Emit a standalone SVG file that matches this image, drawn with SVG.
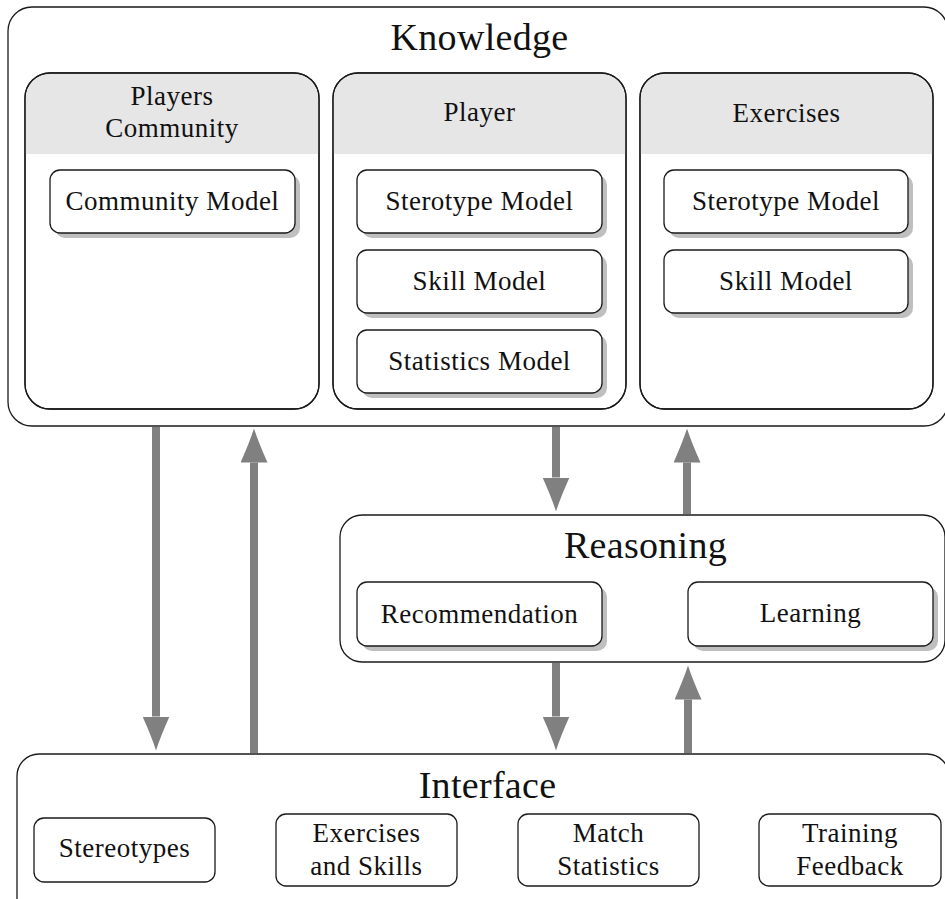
<svg xmlns="http://www.w3.org/2000/svg" width="945" height="899" viewBox="0 0 945 899">
<defs>
<style>
.outer{fill:#fff;stroke:#1a1a1a;stroke-width:1.3}
.box{fill:#fff;stroke:#1a1a1a;stroke-width:1.3}
.shadow{fill:#bfbfbf}
.hdr{fill:#e6e6e6}
.t{font-family:'Liberation Serif','DejaVu Serif',serif;font-size:27px;text-anchor:middle;fill:#111;letter-spacing:0.5px}
.title{font-size:38px;letter-spacing:0.3px}
.arrow{stroke:#808080;stroke-width:8;fill:none}
</style>
<marker id="ah" viewBox="0 0 34 27" markerWidth="34" markerHeight="27" refX="0" refY="13.5" markerUnits="userSpaceOnUse" orient="auto">
<path d="M0,0 Q20,9 34,13.5 Q20,18 0,27 Z" fill="#808080"/>
</marker>
</defs>
<rect width="945" height="899" fill="#fff"/>

<g id="knowledge">
<rect class="outer" x="8" y="7" width="940" height="419" rx="24"/>
<text class="t title" x="479.5" y="50">Knowledge</text>
</g>

<g id="players-community">
<rect class="box" x="25" y="73" width="294" height="336" rx="25"/>
<path class="hdr" d="M25.7,154 V98 A25,25 0 0 1 50,73.7 H294 A25,25 0 0 1 318.3,98 V154 Z"/>
<rect x="25" y="73" width="294" height="336" rx="25" fill="none" stroke="#1a1a1a" stroke-width="1.3"/>
<text class="t" x="172" y="105">Players</text>
<text class="t" x="172" y="137">Community</text>
</g>
<g id="community-model">
<rect class="shadow" x="55" y="175" width="245" height="63" rx="10"/>
<rect class="box" x="50" y="170" width="245" height="63" rx="10"/>
<text class="t" x="172.5" y="210">Community Model</text>
</g>

<g id="player">
<rect class="box" x="333" y="73" width="293" height="336" rx="25"/>
<path class="hdr" d="M333.7,154 V98 A25,25 0 0 1 358,73.7 H601 A25,25 0 0 1 625.3,98 V154 Z"/>
<rect x="333" y="73" width="293" height="336" rx="25" fill="none" stroke="#1a1a1a" stroke-width="1.3"/>
<text class="t" x="479.5" y="120.5">Player</text>
</g>
<g id="player-stereotype-model">
<rect class="shadow" x="362" y="175" width="245" height="63" rx="10"/>
<rect class="box" x="357" y="170" width="245" height="63" rx="10"/>
<text class="t" x="479.5" y="210">Sterotype Model</text>
</g>
<g id="player-skill-model">
<rect class="shadow" x="362" y="255" width="245" height="63" rx="10"/>
<rect class="box" x="357" y="250" width="245" height="63" rx="10"/>
<text class="t" x="479.5" y="290">Skill Model</text>
</g>
<g id="player-statistics-model">
<rect class="shadow" x="362" y="335" width="245" height="63" rx="10"/>
<rect class="box" x="357" y="330" width="245" height="63" rx="10"/>
<text class="t" x="479.5" y="370">Statistics Model</text>
</g>

<g id="exercises">
<rect class="box" x="640" y="73" width="293" height="336" rx="25"/>
<path class="hdr" d="M640.7,154 V98 A25,25 0 0 1 665,73.7 H908 A25,25 0 0 1 932.3,98 V154 Z"/>
<rect x="640" y="73" width="293" height="336" rx="25" fill="none" stroke="#1a1a1a" stroke-width="1.3"/>
<text class="t" x="786.5" y="121.5">Exercises</text>
</g>
<g id="exercises-stereotype-model">
<rect class="shadow" x="669" y="175" width="244" height="63" rx="10"/>
<rect class="box" x="664" y="170" width="244" height="63" rx="10"/>
<text class="t" x="786" y="209.5">Sterotype Model</text>
</g>
<g id="exercises-skill-model">
<rect class="shadow" x="669" y="255" width="244" height="63" rx="10"/>
<rect class="box" x="664" y="250" width="244" height="63" rx="10"/>
<text class="t" x="786" y="290">Skill Model</text>
</g>

<g id="reasoning">
<rect class="outer" x="340" y="515" width="605" height="147" rx="22"/>
<text class="t title" x="645.5" y="558">Reasoning</text>
</g>
<g id="recommendation">
<rect class="shadow" x="362" y="587" width="245" height="64" rx="10"/>
<rect class="box" x="357" y="582" width="245" height="64" rx="10"/>
<text class="t" x="479.5" y="623">Recommendation</text>
</g>
<g id="learning">
<rect class="shadow" x="693" y="587" width="245" height="64" rx="10"/>
<rect class="box" x="688" y="582" width="245" height="64" rx="10"/>
<text class="t" x="810.5" y="622">Learning</text>
</g>

<g id="interface">
<rect class="outer" x="17" y="754" width="932" height="170" rx="22"/>
<text class="t title" x="487.5" y="798">Interface</text>
</g>
<g id="stereotypes">
<rect class="box" x="34" y="818" width="181" height="64" rx="10"/>
<text class="t" x="124.5" y="857">Stereotypes</text>
</g>
<g id="exercises-and-skills">
<rect class="box" x="276" y="814" width="181" height="72" rx="10"/>
<text class="t" x="366.5" y="842">Exercises</text>
<text class="t" x="366.5" y="875">and Skills</text>
</g>
<g id="match-statistics">
<rect class="box" x="518" y="814" width="181" height="72" rx="10"/>
<text class="t" x="608.5" y="842">Match</text>
<text class="t" x="608.5" y="875">Statistics</text>
</g>
<g id="training-feedback">
<rect class="box" x="759" y="814" width="182" height="72" rx="10"/>
<text class="t" x="850" y="842">Training</text>
<text class="t" x="850" y="875">Feedback</text>
</g>

<g id="connectors">
<line class="arrow" x1="156" y1="427" x2="156" y2="716.5" marker-end="url(#ah)"/>
<line class="arrow" x1="254" y1="753" x2="254" y2="462.5" marker-end="url(#ah)"/>
<line class="arrow" x1="556" y1="427" x2="556" y2="477.5" marker-end="url(#ah)"/>
<line class="arrow" x1="687" y1="514" x2="687" y2="462.5" marker-end="url(#ah)"/>
<line class="arrow" x1="556" y1="663" x2="556" y2="716.5" marker-end="url(#ah)"/>
<line class="arrow" x1="688" y1="753" x2="688" y2="699.5" marker-end="url(#ah)"/>
</g>
</svg>
